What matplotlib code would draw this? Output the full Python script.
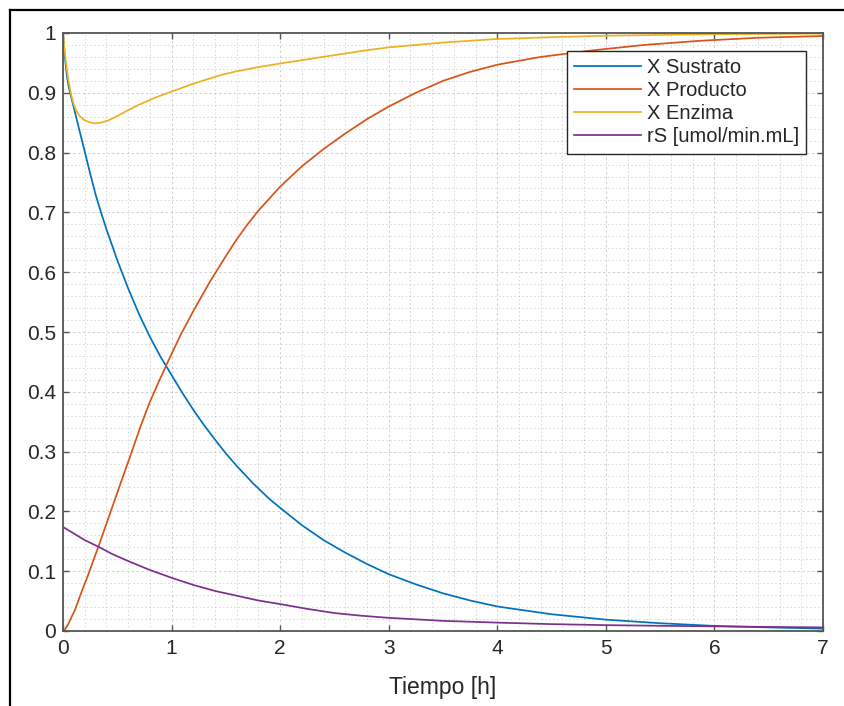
import matplotlib
matplotlib.use("Agg")
import matplotlib.pyplot as plt
from matplotlib.ticker import MultipleLocator, FixedLocator
from matplotlib.lines import Line2D

plt.rcParams['font.family'] = ['Liberation Sans', 'DejaVu Sans']

# ---- data ----
t_sus = [0, 0.01, 0.02, 0.035, 0.05, 0.075, 0.1, 0.15, 0.2, 0.25, 0.3, 0.35, 0.4,
         0.5, 0.6, 0.7, 0.8, 0.9, 1.0, 1.1, 1.2, 1.3, 1.4, 1.5, 1.6, 1.75, 1.9, 2.0,
         2.2, 2.4, 2.6, 2.8, 3.0, 3.25, 3.5, 3.75, 4.0, 4.5, 5.0, 5.5, 6.0, 6.5, 7.0]
x_sus = [1.0, 0.975, 0.955, 0.93, 0.912, 0.893, 0.875, 0.838, 0.802, 0.765, 0.73,
         0.70, 0.672, 0.62, 0.573, 0.53, 0.492, 0.458, 0.428, 0.398, 0.370, 0.344,
         0.320, 0.297, 0.276, 0.247, 0.221, 0.206, 0.177, 0.152, 0.131, 0.112, 0.095,
         0.078, 0.063, 0.051, 0.041, 0.028, 0.019, 0.013, 0.0085, 0.006, 0.004]

t_prod = [0, 0.02, 0.05, 0.08, 0.11, 0.17, 0.23, 0.33, 0.43, 0.54, 0.63, 0.72, 0.8,
          0.89, 0.955, 1.08, 1.2, 1.35, 1.5, 1.6, 1.7, 1.8, 2.0, 2.2, 2.4, 2.6, 2.8,
          3.0, 3.25, 3.5, 3.75, 4.0, 4.4, 4.88, 5.35, 5.87, 6.4, 7.0]
x_prod = [0, 0.003, 0.012, 0.024, 0.035, 0.065, 0.093, 0.143, 0.195, 0.252, 0.298,
          0.345, 0.383, 0.42, 0.446, 0.494, 0.535, 0.583, 0.627, 0.655, 0.68, 0.703,
          0.743, 0.777, 0.806, 0.832, 0.856, 0.877, 0.9, 0.92, 0.935, 0.947, 0.96,
          0.971, 0.98, 0.987, 0.992, 0.995]

t_enz = [0, 0.01, 0.02, 0.035, 0.05, 0.065, 0.08, 0.1, 0.125, 0.15, 0.19, 0.24,
         0.29, 0.35, 0.42, 0.5, 0.6, 0.7, 0.85, 1.0, 1.15, 1.3, 1.46, 1.6, 1.77, 2.0,
         2.25, 2.5, 2.75, 3.0, 3.5, 4.0, 4.5, 5.0, 6.0, 7.0]
x_enz = [1.0, 0.98, 0.962, 0.94, 0.921, 0.906, 0.893, 0.88, 0.869, 0.862, 0.855,
         0.851, 0.849, 0.85, 0.854, 0.861, 0.871, 0.88, 0.892, 0.902, 0.912, 0.921,
         0.93, 0.936, 0.942, 0.949, 0.956, 0.963, 0.97, 0.976, 0.984, 0.99, 0.993,
         0.9955, 0.998, 0.999]

t_rs = [0, 0.1, 0.2, 0.325, 0.45, 0.6, 0.8, 1.0, 1.2, 1.4, 1.6, 1.8, 2.0, 2.25,
        2.5, 2.75, 3.0, 3.5, 4.0, 4.5, 5.0, 5.5, 6.0, 6.5, 7.0]
r_s = [0.174, 0.163, 0.152, 0.141, 0.129, 0.117, 0.102, 0.089, 0.077, 0.067, 0.059,
       0.051, 0.045, 0.037, 0.030, 0.0255, 0.022, 0.017, 0.014, 0.0115, 0.0098,
       0.0087, 0.0078, 0.0068, 0.006]

labels = ['X Sustrato', 'X Producto', 'X Enzima', 'rS [umol/min.mL]']
colors = ['#0072BD', '#D95319', '#EDB120', '#7E2F8E']
x_ticks = [0, 1, 2, 3, 4, 5, 6, 7]
y_ticks = [0, 0.1, 0.2, 0.3, 0.4, 0.5, 0.6, 0.7, 0.8, 0.9, 1.0]
y_ticklabels = ['0', '0.1', '0.2', '0.3', '0.4', '0.5', '0.6', '0.7', '0.8', '0.9', '1']
xlabel = 'Tiempo [h]'

# ---- figure ----
fig = plt.figure(figsize=(8.45, 7.06), dpi=100)
ax = fig.add_axes([63 / 845, 1 - 631 / 706, 760 / 845, 598 / 706])

series = [(t_sus, x_sus), (t_prod, x_prod), (t_enz, x_enz), (t_rs, r_s)]
for (tt, yy), lab, col in zip(series, labels, colors):
    ax.plot(tt, yy, color=col, lw=1.25, label=lab, solid_joinstyle='round')

ax.set_xlim(0, 7)
ax.set_ylim(0, 1)
ax.xaxis.set_major_locator(FixedLocator(x_ticks))
ax.yaxis.set_major_locator(FixedLocator(y_ticks))
ax.set_yticklabels(y_ticklabels)
ax.xaxis.set_minor_locator(MultipleLocator(0.2))
ax.yaxis.set_minor_locator(MultipleLocator(0.02))

txtc = '#262626'
ax.tick_params(which='major', direction='in', length=4, width=1.0, color='#555555',
               top=True, right=True, labelsize=15, labelcolor=txtc)
ax.tick_params(axis='x', which='major', pad=6)
ax.tick_params(axis='y', which='major', pad=5)
ax.tick_params(which='minor', length=0, top=True, right=True)

ax.grid(which='major', color='#a0a0a0', linestyle=(0, (2.5, 2.5)), lw=0.7, alpha=0.5)
ax.grid(which='minor', color='#a0a0a0', linestyle=(0, (1.5, 2.5)), lw=0.7, alpha=0.42)
ax.set_axisbelow(True)

for sp in ax.spines.values():
    sp.set_color('#555555')
    sp.set_linewidth(1.3)

ax.set_xlabel(xlabel, fontsize=16.5, color=txtc, labelpad=13)

leg = ax.legend(loc='upper right', bbox_to_anchor=(0.9776, 0.970), borderaxespad=0,
                fontsize=14.5, handlelength=3.3, handletextpad=0.3, labelspacing=0.2,
                borderpad=0.36, fancybox=False, framealpha=1, edgecolor='#262626')
leg.get_frame().set_linewidth(1.0)
for txt in leg.get_texts():
    txt.set_color(txtc)

# outer screenshot frame (left and top edges)
fig.add_artist(Line2D([10 / 845, 10 / 845], [0, 1 - 10 / 706], color='black', lw=1.6,
                      transform=fig.transFigure))
fig.add_artist(Line2D([10 / 845, 1], [1 - 10 / 706, 1 - 10 / 706], color='black', lw=1.6,
                      transform=fig.transFigure))

fig.savefig('out.png', dpi=100)
